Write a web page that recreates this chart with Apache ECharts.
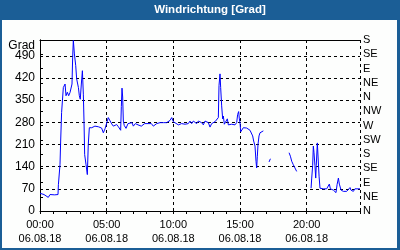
<!DOCTYPE html>
<html><head><meta charset="utf-8">
<script src="https://cdn.jsdelivr.net/npm/echarts@6/dist/echarts.min.js"></script>
<style>html,body{margin:0;padding:0;background:#fdfefd}#c{width:400px;height:250px}</style>
</head><body><div id="c"></div>
<script>
const chartTitle = 'Windrichtung [Grad]';
const unitLabel = 'Grad';
const dateLabel = '06.08.18';
const compassLabels = ['N','NE','E','SE','S','SW','W','NW','N','NE','E','SE','S'];
// time in hours since 00:00, wind direction in degrees (null = gap)
const hours = [
 0.0,0.12,0.3,0.45,0.62,0.75,0.9,1.1,1.35,1.38,1.5,1.55,1.62,1.75,1.88,1.95,2.05,2.15,2.25,2.32,2.4,2.45,2.5,2.58,2.68,2.75,2.88,2.95,3.02,3.1,3.18,3.25,3.3,3.35,3.45,3.55,3.62,3.7,3.88,4.12,4.38,4.5,4.62,4.75,4.88,5.0,5.12,5.25,5.38,5.5,5.62,5.75,5.88,6.0,
 6.05,6.1,6.15,6.2,6.25,6.32,6.45,6.6,6.75,6.9,7.0,7.15,7.35,7.6,7.85,8.1,8.35,8.5,8.75,9.0,9.25,9.5,9.75,9.88,10.0,10.12,10.38,10.62,10.88,11.12,
 11.25,11.375,11.5,11.625,11.75,11.875,12.125,12.25,12.375,12.5,12.625,12.75,12.875,13.0,13.125,13.25,13.375,13.425,13.5,13.55,13.625,13.7,13.75,13.825,13.95,14.05,14.125,14.25,14.375,14.5,14.625,14.75,14.825,14.9,14.95,15.0,15.05,15.125,15.25,15.375,15.5,15.625,15.75,15.875,15.95,16.025,16.125,16.2,16.25,16.3,16.35,16.425,16.5,16.625,16.75,
 16.95,17.18,17.28,17.5,
 18.68,18.78,18.88,19.0,19.12,19.25,19.6,
 20.33,20.38,20.45,20.5,20.55,20.62,20.68,20.72,20.8,20.88,20.93,21.0,21.12,21.25,21.38,21.5,21.62,21.7,21.78,21.88,22.0,22.12,22.2,22.28,22.38,22.45,22.58,22.75,22.88,23.0,23.12,23.25,23.32,23.5,23.62,23.75,24.0
];
const degrees = [
 56,54,52,50,43,52,56,51,52,83,147,221,311,390,401,364,375,364,374,368,401,486,539,496,459,417,390,364,353,401,443,369,284,178,147,115,210,263,263,268,266,272,262,247,260,263,295,290,275,268,263,273,266,265,
 255,330,388,360,284,270,261,276,272,279,268,276,272,268,276,276,276,268,276,279,279,279,286,295,282,276,272,276,274,276,
 284,276,284,279,276,284,279,272,284,286,279,265,276,279,282,284,295,396,433,390,332,291,300,274,279,291,272,268,274,268,272,279,305,314,291,279,250,253,263,265,262,258,255,258,237,221,205,157,136,173,210,237,247,250,253,
 null,155,165,null,
 184,173,157,146,136,125,null,
 72,104,144,205,184,144,104,144,215,212,110,72,66,70,66,70,72,85,70,66,66,62,58,83,104,85,66,62,64,62,66,74,66,62,70,66,70
];
const seriesData = hours.map((h, i) => [h, degrees[i]]);
const pad = n => (n < 10 ? '0' : '') + n;
const fontFam = '"Liberation Sans", Arial, sans-serif';
const chart = echarts.init(document.getElementById('c'), null, {renderer: 'canvas'});
chart.setOption({
  animation: false,
  backgroundColor: '#fdfefd',
  grid: {left: 40, right: 40, top: 40, bottom: 39},
  xAxis: [
    {type: 'value', min: 0, max: 24, interval: 5, position: 'bottom',
     axisLine: {show: true, lineStyle: {color: '#000', width: 1}},
     axisTick: {show: false},
     axisLabel: {color: '#000', fontFamily: fontFam, fontSize: 11, lineHeight: 14, margin: 7,
       formatter: v => (v % 5 === 0 && v < 24) ? pad(v) + ':00\n' + dateLabel : ''},
     splitLine: {show: true, lineStyle: {color: '#000', type: [3, 3], width: 1}}},
    {type: 'value', min: 0, max: 24, interval: 1, position: 'bottom',
     axisLine: {show: false},
     axisTick: {show: true, length: 3, lineStyle: {color: '#000'}},
     axisLabel: {show: false}, splitLine: {show: false}},
    {type: 'value', min: 0, max: 24, interval: 24, position: 'top',
     axisLine: {show: true, lineStyle: {color: '#000', width: 1}},
     axisTick: {show: false}, axisLabel: {show: false}, splitLine: {show: false}}
  ],
  yAxis: [
    {type: 'value', min: 0, max: 540, interval: 70, position: 'left',
     axisLine: {show: true, lineStyle: {color: '#000', width: 1}},
     axisTick: {show: false},
     axisLabel: {color: '#000', fontFamily: fontFam, fontSize: 12, margin: 5,
       formatter: v => v > 490 ? '' : String(v)},
     splitLine: {show: true, lineStyle: {color: '#000', type: [3, 3], width: 1}}},
    {type: 'value', min: 0, max: 540, interval: 45, position: 'right',
     axisLine: {show: true, lineStyle: {color: '#000', width: 1}},
     axisTick: {show: true, length: 3, lineStyle: {color: '#000'}},
     axisLabel: {color: '#000', fontFamily: fontFam, fontSize: 11, margin: 3,
       formatter: v => compassLabels[Math.round(v / 45)] || ''},
     splitLine: {show: false}}
  ],
  series: [{
    type: 'line', xAxisIndex: 0, yAxisIndex: 0, data: seriesData,
    showSymbol: false, connectNulls: false,
    lineStyle: {color: '#0000ff', width: 1}, itemStyle: {color: '#0000ff'}
  }],
  graphic: [
    {type: 'rect', shape: {x: 0, y: 0, width: 400, height: 20}, style: {fill: '#1b5e96'}, z: 100},
    {type: 'rect', shape: {x: 0, y: 0, width: 2, height: 250}, style: {fill: '#1b5e96'}, z: 100},
    {type: 'rect', shape: {x: 397, y: 0, width: 3, height: 250}, style: {fill: '#1b5e96'}, z: 100},
    {type: 'rect', shape: {x: 0, y: 248, width: 400, height: 2}, style: {fill: '#1b5e96'}, z: 100},
    {type: 'text', x: 210, y: 10, z: 101,
     style: {text: chartTitle, fill: '#fff', font: 'bold 11.5px ' + fontFam, textAlign: 'center', textVerticalAlign: 'middle'}},
    {type: 'text', x: 35, y: 46, z: 101,
     style: {text: unitLabel, fill: '#000', font: '12px ' + fontFam, textAlign: 'right', textVerticalAlign: 'middle'}}
  ]
});
</script></body></html>
